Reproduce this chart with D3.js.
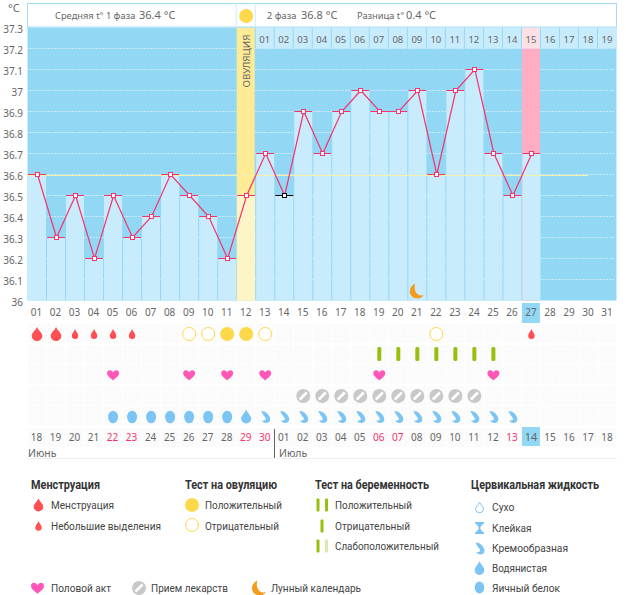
<!DOCTYPE html>
<html>
<head>
<meta charset="utf-8">
<script src="https://cdn.jsdelivr.net/npm/d3@7"></script>
<style>
  body { margin: 0; background: #fff; }
  svg { display: block; }
  text { font-family: "Noto Sans", sans-serif; }
  .tick text { fill: #666; }
  .legend { font-family: Roboto, sans-serif; font-size: 11.5px; fill: #444; }
  .legend-title { font-family: Roboto, sans-serif; font-size: 12.5px; font-weight: 700; fill: #333; }
</style>
</head>
<body>
<svg width="626" height="595"></svg>
<script>
// chart data
const days = d3.range(1, 32);
const dayLabels = days.map(d => String(d).padStart(2, '0'));
const temps = [36.6, 36.3, 36.5, 36.2, 36.5, 36.3, 36.4, 36.6, 36.5, 36.4, 36.2, 36.5, 36.7, 36.5,
  36.9, 36.7, 36.9, 37, 36.9, 36.9, 37, 36.6, 37, 37.1, 36.7, 36.5, 36.7];
const yTicks = [36, 36.1, 36.2, 36.3, 36.4, 36.5, 36.6, 36.7, 36.8, 36.9, 37, 37.1, 37.2, 37.3];
const dates = ['18','19','20','21','22','23','24','25','26','27','28','29','30','01','02','03','04',
  '05','06','07','08','09','10','11','12','13','14','15','16','17','18'];
const redDays = [5, 6, 12, 13, 19, 20, 26];
const cycleLabels = ['01','02','03','04','05','06','07','08','09','10','11','12','13','14','15','16','17','18','19'];
const ovulationDay = 12, blackDay = 14, pinkDay = 27, todayDay = 27, coverTemp = 36.6;

const heavyDays = [1, 2];
const lightDays = [3, 4, 5, 6, 27];
const ovuPos = [11, 12];
const ovuNeg = [9, 10, 13, 22];
const pregDays = [19, 20, 21, 22, 23, 24, 25];
const heartDays = [5, 9, 11, 13, 19, 25];
const medDays = [15, 16, 17, 18, 19, 20, 21, 22, 23, 24];
const eggDays = [5, 6, 7, 8, 9, 10, 11];
const waterDays = [12];
const creamDays = [13, 14, 15, 16, 17, 18, 19, 20, 21, 22, 23, 24, 25, 26];
const moonDays = [21];

const svg = d3.select('svg');
const plotL = 27.5, plotR = 616.5, plotT = 27.5, plotB = 300.5;

const x = d3.scaleBand().domain(days).range([plotL, plotR + 0.5]);
const y = d3.scaleLinear().domain([36, 37.3]).range([plotB, plotT]);
const cx = d => x(d) + x.bandwidth() / 2;
const w = x.bandwidth();
const snapY = v => Math.floor(y(v)) + 0.5;

const colors = { top: '#92d8f5', bar: '#c9ecfd', yellow: '#fdeb96', paleYellow: '#fdf5c8', pink: '#ffadc2',
  palePink: '#fde0e6', line: '#f5336d', sun: '#fdd84b', blood: '#ff4f52', heart: '#ff57b8', med: '#c8c8c8',
  drop: '#7cc4f4', preg: '#97bf0d', moon: '#f49b1b' };

// icons, drawn around 0,0
const dropPath = (rx, h) => `M0,${-h/2} C${rx*0.35},${-h*0.2} ${rx},${-h*0.08} ${rx},${h/2-rx} A${rx},${rx} 0 1 1 ${-rx},${h/2-rx} C${-rx},${-h*0.08} ${-rx*0.35},${-h*0.2} 0,${-h/2}Z`;
const heartPath = s => `M0,${s*0.9} C${-s*0.4},${s*0.5} ${-s},${s*0.2} ${-s},${-s*0.3} C${-s},${-s*0.95} ${-s*0.2},${-s*0.95} 0,${-s*0.4} C${s*0.2},${-s*0.95} ${s},${-s*0.95} ${s},${-s*0.3} C${s},${s*0.2} ${s*0.4},${s*0.5} 0,${s*0.9}Z`;
const creamPath = 'M-4,-6 C-1,-6 1,-5 2.5,-3 C4,-1.5 5,0.5 5,2.5 C5,4.8 3,6 1,6 C-1,6 -2.5,5 -3.5,3.5 C-2,4 0,3.8 0.5,2.3 C0.9,1 -0.5,0 -1.5,-1.5 C-2.5,-3 -3.5,-4.5 -4,-6Z';
const moonPath = 'M-1.5,-7.5 C-5,-6 -7,-3 -7,0.5 C-7,4.5 -3.5,7.5 0.5,7.5 C3,7.5 5.5,6.2 7,4 C5.5,4.6 4,4.6 2.5,4.2 C-1,3.2 -3.5,-2.5 -1.5,-7.5Z';

function drawMed(g, px, py, r) {
  g.append('circle').attr('cx', px).attr('cy', py).attr('r', r).attr('fill', colors.med);
  g.append('line').attr('x1', px - r * 0.5).attr('y1', py + r * 0.5).attr('x2', px + r * 0.5).attr('y2', py - r * 0.5)
    .attr('stroke', '#fff').attr('stroke-width', r * 0.38);
}
const icon = (g, d, px, py, fill) => g.append('path').attr('d', d).attr('transform', `translate(${px},${py})`).attr('fill', fill);
const sun = (g, px, py, r) => g.append('circle').attr('cx', px).attr('cy', py).attr('r', r).attr('fill', colors.sun);
const ring = (g, px, py, r) => g.append('circle').attr('cx', px).attr('cy', py).attr('r', r).attr('fill', '#fff').attr('stroke', colors.sun).attr('stroke-width', 1);

// row texture
const defs = svg.append('defs');
const pat = defs.append('pattern').attr('id', 'cellTex').attr('width', 3).attr('height', 3)
  .attr('patternUnits', 'userSpaceOnUse').attr('patternTransform', 'rotate(45)');
pat.append('rect').attr('width', 3).attr('height', 3).attr('fill', '#fdfdfd');
pat.append('rect').attr('width', 1).attr('height', 3).attr('fill', '#f8f8f8');

// plot background
svg.append('rect').attr('x', plotL).attr('y', plotT).attr('width', plotR - plotL).attr('height', plotB - plotT).attr('fill', colors.top);

// dotted grid
svg.append('g').selectAll('line').data(yTicks.filter(t => t > 36 && t < 37.3)).join('line')
  .attr('x1', plotL).attr('x2', plotR - 2)
  .attr('y1', d => snapY(d)).attr('y2', d => snapY(d))
  .attr('stroke', '#fff').attr('stroke-width', 1).attr('stroke-dasharray', '1 2');

// ovulation and pink columns
svg.append('rect').attr('x', x(ovulationDay)).attr('y', plotT).attr('width', w - 1).attr('height', plotB - plotT).attr('fill', colors.yellow);
svg.append('rect').attr('x', x(pinkDay)).attr('y', y(37.2)).attr('width', w - 1).attr('height', y(36) - y(37.2)).attr('fill', colors.pink);

// bars
svg.append('g').selectAll('rect').data(temps).join('rect')
  .attr('x', (d, i) => x(i + 1) + 0.5)
  .attr('y', d => y(d))
  .attr('width', w - 1)
  .attr('height', d => plotB - y(d))
  .attr('fill', (d, i) => i + 1 === ovulationDay ? colors.paleYellow : colors.bar);

// cover line
svg.append('line').attr('x1', plotL).attr('x2', 588).attr('y1', snapY(coverTemp) + 1).attr('y2', snapY(coverTemp) + 1)
  .attr('stroke', '#f7f0a8').attr('stroke-width', 1);

// header
svg.append('rect').attr('x', plotL).attr('y', 3.5).attr('width', plotR - plotL).attr('height', 23.5)
  .attr('fill', '#fff').attr('stroke', '#a5dcf4');
svg.append('line').attr('x1', x(ovulationDay) - 0.5).attr('x2', x(ovulationDay) - 0.5).attr('y1', 3.5).attr('y2', 27).attr('stroke', '#c9ecfd');
svg.append('line').attr('x1', x(ovulationDay + 1) - 0.5).attr('x2', x(ovulationDay + 1) - 0.5).attr('y1', 3.5).attr('y2', 27).attr('stroke', '#c9ecfd');
sun(svg, cx(ovulationDay), 16, 7);
const head = [['Средняя t° 1 фаза', 55, 9.3], ['36.4 °C', 139, 11], ['2 фаза', 267, 9.3], ['36.8 °C', 301, 11],
  ['Разница t°', 357, 9.3], ['0.4 °C', 406, 11]];
svg.append('g').selectAll('text').data(head).join('text')
  .attr('x', d => d[1]).attr('y', 19).attr('font-size', d => d[2]).attr('fill', '#666').text(d => d[0]);

svg.append('text').attr('x', 8).attr('y', 12).attr('font-size', 11).attr('fill', '#666').text('°C');

// ovulation label
svg.append('text').attr('transform', `translate(${cx(ovulationDay) + 3.5},61) rotate(-90)`)
  .attr('text-anchor', 'middle').attr('font-size', 9.8).attr('fill', '#666').text('ОВУЛЯЦИЯ');

// cycle day row
const cyc = svg.append('g');
cycleLabels.forEach((lab, i) => {
  const d = ovulationDay + 1 + i;
  cyc.append('rect').attr('x', x(d)).attr('y', plotT).attr('width', w - 1).attr('height', y(37.2) - plotT)
    .attr('fill', d === pinkDay ? colors.palePink : colors.bar);
  cyc.append('text').attr('x', cx(d) - 0.5).attr('y', 43).attr('text-anchor', 'middle').attr('font-size', 9.5).attr('fill', '#666').text(lab);
});

// temperature line
const tempLine = d3.line().x((d, i) => cx(i + 1) + 0.5).y(d => snapY(d));
svg.append('path').datum(temps).attr('d', tempLine).attr('fill', 'none').attr('stroke', colors.line).attr('stroke-width', 1.2);

svg.append('g').selectAll('line').data(temps).join('line')
  .attr('x1', (d, i) => cx(i + 1) - 9).attr('x2', (d, i) => cx(i + 1) + 9)
  .attr('y1', d => snapY(d)).attr('y2', d => snapY(d))
  .attr('stroke', (d, i) => i + 1 === blackDay ? '#000' : colors.line);

svg.append('g').selectAll('rect').data(temps).join('rect')
  .attr('x', (d, i) => Math.floor(cx(i + 1)) + 0.5 - 2)
  .attr('y', d => snapY(d) - 2)
  .attr('width', 4).attr('height', 4)
  .attr('fill', '#fff')
  .attr('stroke', (d, i) => i + 1 === blackDay ? '#000' : colors.line);

moonDays.forEach(d => icon(svg, moonPath, cx(d) - 0.5, 291, colors.moon));

// axes
const yAxis = d3.axisLeft(y).tickValues(yTicks).tickFormat(d => String(d)).tickSize(0);
const yG = svg.append('g').attr('transform', 'translate(24,2)').call(yAxis);
yG.select('.domain').remove();
yG.selectAll('text').attr('font-size', 10).attr('font-family', '"Noto Sans"').attr('x', -1);

svg.append('rect').attr('x', x(todayDay)).attr('y', 303).attr('width', w - 1).attr('height', 20).attr('fill', colors.top);
const xAxis = d3.axisBottom(x).tickFormat(d => dayLabels[d - 1]).tickSize(0);
const xG = svg.append('g').attr('transform', 'translate(-0.5,306)').call(xAxis);
xG.select('.domain').remove();
xG.selectAll('text').attr('font-size', 10).attr('font-family', '"Noto Sans"');

// marker rows
const rowTops = [324, 345, 365, 386, 406, 428];
rowTops.forEach(t => {
  svg.append('g').selectAll('rect').data(days).join('rect')
    .attr('x', d => x(d) + 0.5).attr('y', t).attr('width', w - 1).attr('height', 19).attr('fill', 'url(#cellTex)');
});
const rowY = { mens: 334, preg: 354, heart: 375, med: 396, cm: 417 };

const marks = svg.append('g');
heavyDays.forEach(d => icon(marks, dropPath(5.3, 14), cx(d), rowY.mens, colors.blood));
lightDays.forEach(d => icon(marks, dropPath(3.2, 10), cx(d), rowY.mens, colors.blood));
ovuPos.forEach(d => sun(marks, cx(d), rowY.mens, 7));
ovuNeg.forEach(d => ring(marks, cx(d), rowY.mens, 6.5));
pregDays.forEach(d => marks.append('rect').attr('x', cx(d) - 2).attr('y', rowY.preg - 7).attr('width', 4).attr('height', 14).attr('rx', 1.5).attr('fill', colors.preg));
heartDays.forEach(d => icon(marks, heartPath(6), cx(d), rowY.heart, colors.heart));
medDays.forEach(d => drawMed(marks, cx(d), rowY.med, 7));
eggDays.forEach(d => marks.append('ellipse').attr('cx', cx(d)).attr('cy', rowY.cm).attr('rx', 5).attr('ry', 6.3).attr('fill', colors.drop));
waterDays.forEach(d => icon(marks, dropPath(5, 14), cx(d), rowY.cm - 0.5, colors.drop));
creamDays.forEach(d => icon(marks, creamPath, cx(d), rowY.cm, colors.drop));

// date row
svg.append('rect').attr('x', x(todayDay)).attr('y', 427).attr('width', w - 1).attr('height', 19).attr('fill', colors.top);
svg.append('g').selectAll('text').data(dates).join('text')
  .attr('x', (d, i) => cx(i + 1) - 0.5).attr('y', 441).attr('text-anchor', 'middle')
  .attr('font-size', (d, i) => i + 1 === todayDay ? 11 : 10)
  .attr('fill', (d, i) => redDays.includes(i + 1) ? '#f5336d' : '#666')
  .text(d => d);
svg.append('line').attr('x1', 274.5).attr('x2', 274.5).attr('y1', 429).attr('y2', 458).attr('stroke', '#666');
svg.append('text').attr('x', 28).attr('y', 457).attr('font-size', 10.5).attr('fill', '#666').text('Июнь');
svg.append('text').attr('x', 279).attr('y', 457).attr('font-size', 10.5).attr('fill', '#666').text('Июль');
svg.append('line').attr('x1', 27).attr('x2', 617).attr('y1', 458.5).attr('y2', 458.5).attr('stroke', '#eee');

// legend, widths squeezed to fit the narrower original face
const lg = svg.append('g');
const squeeze = (sel, len) => sel.attr('textLength', len).attr('lengthAdjust', 'spacingAndGlyphs');
const title = (t, px, len) => squeeze(lg.append('text').attr('class', 'legend-title').attr('x', px).attr('y', 489).text(t), len);
const item = (t, px, py, len) => squeeze(lg.append('text').attr('class', 'legend').attr('x', px).attr('y', py + 4).text(t), len);

title('Менструация', 31, 69);
icon(lg, dropPath(4.8, 13), 38.5, 505, colors.blood); item('Менструация', 51, 505, 63);
icon(lg, dropPath(3.2, 9.5), 38.5, 526, colors.blood); item('Небольшие выделения', 51, 526, 110);

title('Тест на овуляцию', 185, 92);
sun(lg, 192, 505, 7); item('Положительный', 205, 505, 77);
ring(lg, 192, 525, 6.5); item('Отрицательный', 205, 526, 74);

title('Тест на беременность', 315, 114);
const bar = (px, py, fill) => lg.append('rect').attr('x', px - 1.5).attr('y', py - 6.5).attr('width', 3).attr('height', 13).attr('rx', 1).attr('fill', fill);
bar(318, 505, colors.preg); bar(326.5, 505, colors.preg); item('Положительный', 335, 505, 77);
bar(322, 526, colors.preg); item('Отрицательный', 335, 526, 75);
bar(318, 546, colors.preg); bar(326.5, 546, '#dde8b0'); item('Слабоположительный', 335, 546, 104);

title('Цервикальная жидкость', 471, 128);
lg.append('path').attr('d', dropPath(4, 10.5)).attr('transform', 'translate(479.5,507.5)').attr('fill', '#fff').attr('stroke', colors.drop);
icon(lg, 'M-4.5,-6 H4.5 V-4.5 C1.5,-3 1,-1 1,0 C1,1 1.5,3 4.5,4.5 V6 H-4.5 V4.5 C-1.5,3 -1,1 -1,0 C-1,-1 -1.5,-3 -4.5,-4.5Z', 479.5, 528, colors.drop);
icon(lg, creamPath, 479.5, 548.5, colors.drop);
icon(lg, dropPath(4.8, 14), 479.5, 568, colors.drop);
lg.append('ellipse').attr('cx', 479.5).attr('cy', 587.5).attr('rx', 4.8).attr('ry', 6).attr('fill', colors.drop);
item('Сухо', 492, 507, 22.5); item('Клейкая', 492, 528, 39.5); item('Кремообразная', 492, 548, 76); item('Водянистая', 492, 568, 55); item('Яичный белок', 492, 588, 68);

icon(lg, heartPath(6.5), 37.5, 588, colors.heart); item('Половой акт', 51, 588, 60);
drawMed(lg, 139, 588, 7); item('Прием лекарств', 151, 588, 77);
icon(lg, moonPath, 259, 588, colors.moon); item('Лунный календарь', 271, 588, 90);
</script>
</body>
</html>
